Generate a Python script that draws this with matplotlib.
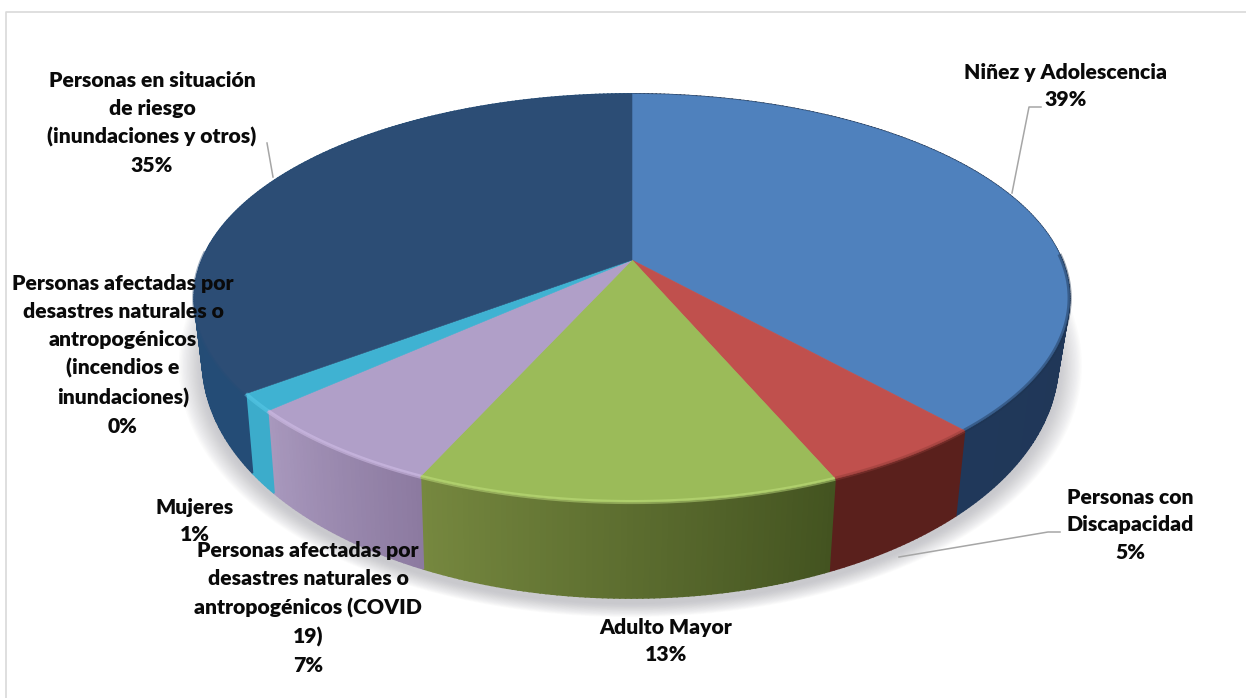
import numpy as np
import matplotlib
matplotlib.use("Agg")
import matplotlib.pyplot as plt
from matplotlib.colors import to_rgb

# shares, labels as printed on the chart
shares = [38.4, 5.2, 13.1, 6.6, 1.3, 0.1, 35.3]
top_colors = ['#4f81bd', '#c0504d', '#9bbb59', '#b09fc8', '#3fb2d2', '#3fb2d2', '#2c4d75']
side_left = ['#20385a', '#5a201c', '#76883f', '#a898bd', '#3caccb', '#3caccb', '#234a73']
side_right = ['#1e3350', '#5a201c', '#435320', '#8c7aa0', '#3caccb', '#3caccb', '#244c76']
rim_colors = ['#1d3350', '#8f3a36', '#c8e884', '#dcc8f2', '#5fd0ee', '#5fd0ee', '#2c4d75']

labels = [
    'Niñez y Adolescencia\n39%',
    'Personas con\nDiscapacidad\n5%',
    'Adulto Mayor\n13%',
    'Personas afectadas por\ndesastres naturales o\nantropogénicos (COVID\n19)\n7%',
    'Mujeres\n1%',
    'Personas afectadas por\ndesastres naturales o\nantropogénicos\n(incendios e\ninundaciones)\n0%',
    'Personas en situación\nde riesgo\n(inundaciones y otros)\n35%',
]
label_x = [1066, 1130, 666, 308, 195, 123, 152]
label_y = [86, 525, 641, 608, 521, 355, 123]

leaders = [
    ([1012, 1029, 1041], [193, 107, 107]),
    ([899, 1048, 1060], [557, 532, 532]),
    ([273, 267], [177, 143]),
]

CX, CY = 632, 260
A, B, K = 430, 197, 0.186


def top_face(t):
    # t runs clockwise from 12 o'clock, perspective makes the far side smaller
    x, y = np.sin(t), np.cos(t)
    d = 1 + K * y
    return CX + A * x / d, CY - B * y / d


def bottom_face(t):
    px, py = top_face(t)
    return 559 + (px - 559) * 0.978, py + 54 - 42 * np.cos(t)


fig = plt.figure(figsize=(12.46, 6.98), dpi=100)
ax = fig.add_axes([0, 0, 1, 1])
ax.set_xlim(0, 1246)
ax.set_ylim(698, 0)
ax.axis('off')

# chart frame, only top and left are visible in the crop
ax.plot([6, 6, 1246], [698, 12, 12], color='#d9d9d9', lw=1.2, zorder=0)

# soft shadow under the pie
ts = np.linspace(0, 2 * np.pi, 300)
sx, sy = bottom_face(ts)
for grow in np.linspace(1.055, 1.0, 18):
    ax.fill(CX + (sx - CX) * grow, CY + 100 + (sy - CY - 100) * grow + 6,
            color='#9a9aa2', alpha=0.035, lw=0, zorder=1)

edges = 2 * np.pi * np.concatenate([[0], np.cumsum(shares)]) / np.sum(shares)

# side wall strips first, then the top face over them
for i in range(len(shares)):
    steps = max(int((edges[i + 1] - edges[i]) * 90), 3)
    tt = np.linspace(edges[i], edges[i + 1], steps + 1)
    c0, c1 = np.array(to_rgb(side_left[i])), np.array(to_rgb(side_right[i]))
    for j in range(steps):
        f = (j + 0.5) / steps
        col = c0 * f + c1 * (1 - f)
        seg = np.array([tt[j], tt[j + 1]])
        x0, y0 = top_face(seg)
        x1, y1 = bottom_face(seg)
        ax.fill(np.r_[x0, x1[::-1]], np.r_[y0, y1[::-1]], color=col, lw=1.2, zorder=2)

for i in range(len(shares)):
    tt = np.linspace(edges[i], edges[i + 1], 120)
    px, py = top_face(tt)
    ax.fill(np.r_[CX, px], np.r_[CY, py], color=top_colors[i], lw=0.4, zorder=3)
    front = np.cos(tt) < 0.05
    ax.plot(px[front], py[front], color=rim_colors[i], lw=3, alpha=0.45,
            solid_capstyle='butt', zorder=4)

for lx, ly in leaders:
    ax.plot(lx, ly, color='#a6a6a6', lw=1.1, zorder=5)

for i in range(len(labels)):
    ax.text(label_x[i], label_y[i], labels[i], ha='center', va='center', family='Lato',
            fontweight='heavy', fontsize=15.2, linespacing=1.56, color='#0a0a0a', zorder=6)

fig.savefig('out.png', dpi=100)
